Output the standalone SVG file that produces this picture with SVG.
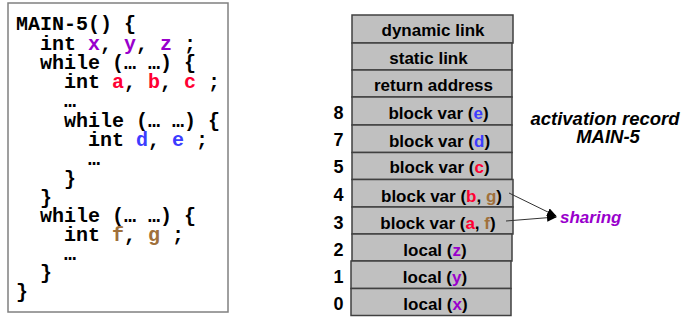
<svg xmlns="http://www.w3.org/2000/svg" width="694" height="327" viewBox="0 0 694 327">
<style>
.code{font-family:"Liberation Mono","Courier New",monospace;font-weight:bold;font-size:20px;fill:#000;white-space:pre}
.cell{fill:#c0c0c0;stroke:#404040;stroke-width:1.5}
.lbl{font-family:"Liberation Sans",Arial,sans-serif;font-weight:bold;font-size:17px;fill:#000;text-anchor:middle}
.num{font-family:"Liberation Sans",Arial,sans-serif;font-weight:bold;font-size:18px;fill:#000;text-anchor:middle}
.it{font-family:"Liberation Sans",Arial,sans-serif;font-weight:bold;font-style:italic;font-size:18.5px;fill:#000;text-anchor:middle}
.pu{fill:#9900cc}.rd{fill:#ff0033}.bl{fill:#3c3cff}.br{fill:#a0703a}
</style>
<defs>
<marker id="ah" markerWidth="10" markerHeight="8" refX="9" refY="4" orient="auto" markerUnits="userSpaceOnUse">
<path d="M0,0 L10,4 L0,8 Z" fill="#000"/>
</marker>
</defs>
<g id="code">
<rect x="8" y="3" width="220" height="309" fill="#fff" stroke="#808080" stroke-width="1.5"/>
<text class="code" x="16" y="30">MAIN-5() {</text>
<text class="code" x="40" y="49.5">int <tspan class="pu">x</tspan>, <tspan class="pu">y</tspan>, <tspan class="pu">z</tspan> ;</text>
<text class="code" x="40" y="68.7">while (… …) {</text>
<text class="code" x="64" y="88">int <tspan class="rd">a</tspan>, <tspan class="rd">b</tspan>, <tspan class="rd">c</tspan> ;</text>
<text class="code" x="64" y="107">…</text>
<text class="code" x="64" y="126.5">while (… …) {</text>
<text class="code" x="88" y="145.7">int <tspan class="bl">d</tspan>, <tspan class="bl">e</tspan> ;</text>
<text class="code" x="88" y="165">…</text>
<text class="code" x="64" y="184.5">}</text>
<text class="code" x="40" y="203.5">}</text>
<text class="code" x="40" y="222">while (… …) {</text>
<text class="code" x="64" y="241">int <tspan class="br">f</tspan>, <tspan class="br">g</tspan> ;</text>
<text class="code" x="64" y="260">…</text>
<text class="code" x="40" y="279">}</text>
<text class="code" x="16" y="298">}</text>
</g>
<g id="stack">
<g id="r10"><rect class="cell" x="352" y="15" width="161" height="28"/><text class="lbl" x="433" y="35.5">dynamic link</text></g>
<g id="r9"><rect class="cell" x="352" y="43" width="160" height="27"/><text class="lbl" x="428.5" y="63.5">static link</text></g>
<g id="r8"><rect class="cell" x="352" y="70" width="160" height="27"/><text class="lbl" x="433.5" y="91">return address</text></g>
<g id="r7"><rect class="cell" x="352" y="97" width="160" height="28"/><text class="lbl" x="438.5" y="119">block var (<tspan class="bl">e</tspan>)</text></g>
<g id="r6"><rect class="cell" x="352" y="125" width="160" height="27.5"/><text class="lbl" x="439.5" y="146.5">block var (<tspan class="bl">d</tspan>)</text></g>
<g id="r5"><rect class="cell" x="352" y="152.5" width="160" height="27"/><text class="lbl" x="439.5" y="172.7">block var (<tspan class="rd">c</tspan>)</text></g>
<g id="r4"><rect class="cell" x="352" y="179.5" width="161" height="27.5"/><text class="lbl" x="441.5" y="201.5">block var (<tspan class="rd">b</tspan>, <tspan class="br">g</tspan>)</text></g>
<g id="r3"><rect class="cell" x="352" y="207" width="161" height="27"/><text class="lbl" x="438" y="229.3">block var (<tspan class="rd">a</tspan>, <tspan class="br">f</tspan>)</text></g>
<g id="r2"><rect class="cell" x="352" y="234" width="160" height="27"/><text class="lbl" x="435" y="255.5">local (<tspan class="pu">z</tspan>)</text></g>
<g id="r1"><rect class="cell" x="351" y="261" width="160" height="27.5"/><text class="lbl" x="435" y="283.3">local (<tspan class="pu">y</tspan>)</text></g>
<g id="r0"><rect class="cell" x="351" y="288.5" width="160" height="27"/><text class="lbl" x="435.5" y="310">local (<tspan class="pu">x</tspan>)</text></g>
</g>
<g id="numbers">
<text class="num" x="338.5" y="119">8</text>
<text class="num" x="338.5" y="146">7</text>
<text class="num" x="338.5" y="172.7">5</text>
<text class="num" x="338.5" y="201">4</text>
<text class="num" x="338.5" y="229">3</text>
<text class="num" x="338.5" y="255.5">2</text>
<text class="num" x="338.5" y="283">1</text>
<text class="num" x="338.5" y="310">0</text>
</g>
<g id="title">
<text class="it" x="605" y="125">activation record</text>
<text class="it" x="608" y="142.7">MAIN-5</text>
</g>
<g id="sharing">
<text x="560" y="223" font-family="Liberation Sans, Arial, sans-serif" font-weight="bold" font-style="italic" font-size="17" fill="#9900cc">sharing</text>
</g>
<g id="connectors" stroke="#333" stroke-width="1" fill="none">
<line x1="509" y1="193" x2="556" y2="216" marker-end="url(#ah)"/>
<line x1="506" y1="221" x2="556" y2="217" marker-end="url(#ah)"/>
</g>
</svg>
